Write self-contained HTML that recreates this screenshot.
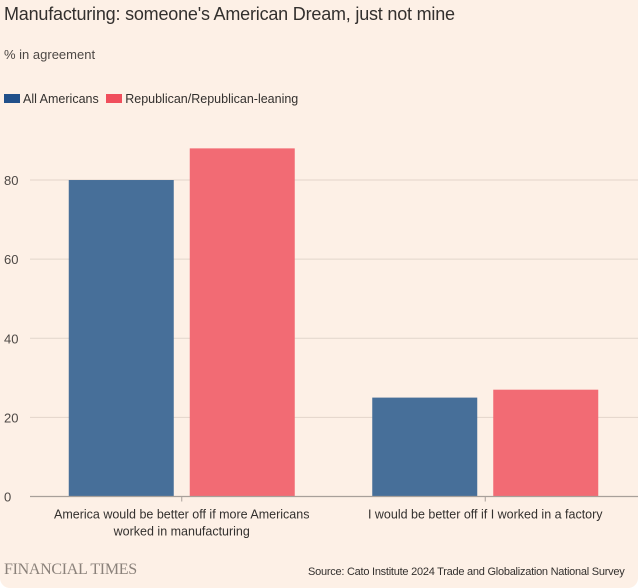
<!DOCTYPE html>
<html><head><meta charset="utf-8"><style>
body{margin:0;background:#fff;}
#card{position:relative;width:638px;height:588px;background:#fdf0e6;font-family:"Liberation Sans",sans-serif;color:#33302e;overflow:hidden;border-radius:0 0 10px 10px;}
.t{position:absolute;white-space:nowrap;}
</style></head><body>
<div id="card">
<div class="t" style="left:4px;top:4px;font-size:18px;color:#33302e;letter-spacing:-0.2px">Manufacturing: someone's American Dream, just not mine</div>
<div class="t" style="left:4px;top:47px;font-size:13px;color:#4d4845">% in agreement</div>
<div class="t" style="left:4px;top:92px;font-size:12.5px;color:#33302e">
<span><span style="display:inline-block;width:16px;height:9px;background:#21508a;margin-right:3px"></span>All Americans</span>
<span style="margin-left:4px"><span style="display:inline-block;width:16px;height:9px;background:#f04e5c;margin-right:3px"></span>Republican/Republican-leaning</span>
</div>
<svg id="chart" width="638" height="588" style="position:absolute;left:0;top:0"></svg>
<div class="t" style="left:4px;top:561px;font-family:'Liberation Serif',serif;font-size:16px;color:#8a817a;letter-spacing:-0.3px">FINANCIAL TIMES</div>
<div class="t" style="left:308px;top:566px;font-size:11px;color:#33302e;letter-spacing:-0.25px">Source: Cato Institute 2024 Trade and Globalization National Survey</div>
</div>
<script>
const categories=["America would be better off if more Americans|worked in manufacturing","I would be better off if I worked in a factory"];
const allAmericans=[80,25];
const republican=[88,27];
const yTicks=[0,20,40,60,80];
const NS="http://www.w3.org/2000/svg";
const svg=document.getElementById('chart');
const y0=496.5,pxPerUnit=3.956;
const y=v=>y0-v*pxPerUnit;
const plotL=30,band=303.5;
const cx=i=>plotL+band*(i+0.5);
function mk(tag,attrs){const e=document.createElementNS(NS,tag);for(const k in attrs)e.setAttribute(k,attrs[k]);svg.appendChild(e);return e;}
yTicks.forEach(v=>{
 if(v>0){const g=mk('line',{x1:plotL,x2:638,y1:y(v),y2:y(v),stroke:'#e2d5cb','stroke-width':1});
 
 }
 const t=mk('text',{x:4,y:y(v)+5,'font-size':13,fill:'#4d4845','font-family':'Liberation Sans, sans-serif'});
 t.textContent=v;
 
 
});
const bw=105,gap=16;
categories.forEach((c,i)=>{
 const b1=mk('rect',{x:cx(i)-gap/2-bw,y:y(allAmericans[i]),width:bw,height:y0-y(allAmericans[i]),fill:'#476f99'});
 
 
 const b2=mk('rect',{x:cx(i)+gap/2,y:y(republican[i]),width:bw,height:y0-y(republican[i]),fill:'#f26b74'});
 
 
 const tk=mk('line',{x1:cx(i),x2:cx(i),y1:y0,y2:y0+5,stroke:'#a8a09a'});
 
 
 c.split('|').forEach((ln,j)=>{
  const t=mk('text',{x:cx(i),y:y0+22+j*17,'font-size':12.5,fill:'#33302e','text-anchor':'middle','font-family':'Liberation Sans, sans-serif'});
  t.textContent=ln;
  
  
 });
});
const ax=mk('line',{x1:plotL,x2:638,y1:y0,y2:y0,stroke:'#a8a09a','stroke-width':1.2});


</script>
</body></html>
